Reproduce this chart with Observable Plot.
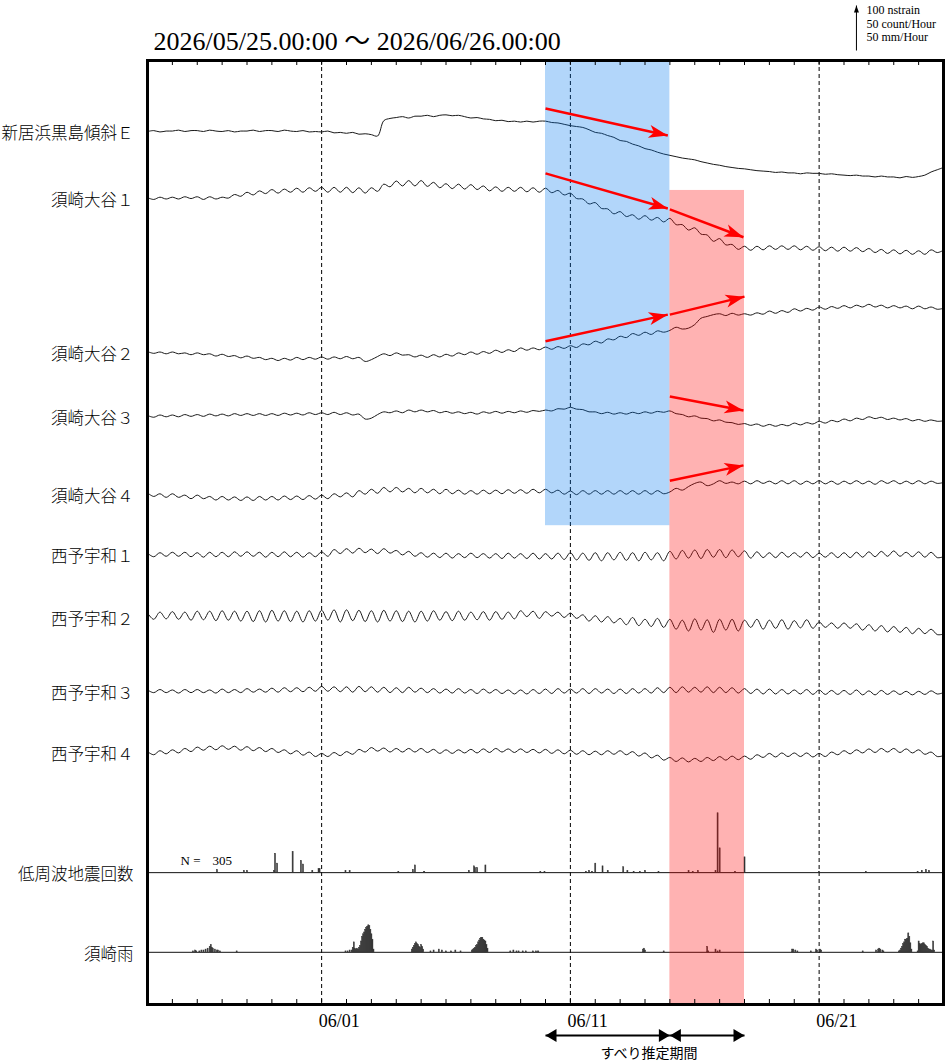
<!DOCTYPE html>
<html><head><meta charset="utf-8">
<script src="https://cdn.jsdelivr.net/npm/d3@7"></script>
<script src="https://cdn.jsdelivr.net/npm/@observablehq/plot@0.6"></script>
<style>body{margin:0;background:#fff}svg{display:block}</style>
</head><body><div id="chart"></div>
<script>
// ---------- data ----------
const START = new Date(Date.UTC(2026, 4, 25));
const END = new Date(Date.UTC(2026, 5, 26));
const STEP_HOURS = 6;
const TITLE = "2026/05/25.00:00 〜 2026/06/26.00:00";
const stationNames = ["新居浜黒島傾斜Ｅ","須崎大谷１","須崎大谷２","須崎大谷３","須崎大谷４","西予宇和１","西予宇和２","西予宇和３","西予宇和４"];
const lfeName = "低周波地震回数";
const rainName = "須崎雨";
const gridDates = [new Date(Date.UTC(2026,5,1)), new Date(Date.UTC(2026,5,11)), new Date(Date.UTC(2026,5,21))];
const scaleLabels = ["100 nstrain","50 count/Hour","50 mm/Hour"];
const slipLabel = "すべり推定期間";

// strain series (nstrain, every 6 hours from START)
const s1 = [0,2,-1,1, 1,3,0,2, 2,0,3,1, 0,2,-1,1, 1,3,0,2, 2,0,3,1, 0,2,-1,0, -1,1,-3,-2,
-4,-2,-6,-5, -7,-10,24,29, 31,33,30,34, 34,36,33,36, 37,35,36,33, 30,31,28,27, 24,25,22,23, 21,23,21,23,
23,20,19,16, 13,11,9,4, -2,-4,-9,-13, -20,-22,-28,-32, -38,-41,-46,-50, -53,-56,-59,-61, -63,-67,-70,-73, -75,-78,-80,-82,
-83,-85,-87,-88, -89,-91,-90,-92, -92,-94,-92,-93, -93,-95,-94,-96, -97,-98,-97,-99, -99,-101,-99,-101, -101,-103,-100,-102, -100,-97,-90,-85,
-80];
const s2 = [2,-2,3,-1, 3,-1,4,0, 4,-2,4,-1, 3,1,9,5, 14,8,17,11, 20,12,21,14, 23,14,24,16, 25,14,25,14,
25,13,24,12, 24,16,32,26, 39,28,40,28, 40,27,36,24, 33,22,32,21, 31,20,28,17, 26,16,25,16, 25,15,24,14,
23,13,18,8, 12,0,-1,-12, -9,-22,-23,-34, -29,-40,-36,-46, -38,-48,-42,-52, -44,-58,-58,-70, -65,-79,-81,-95, -89,-103,-102,-113,
-106,-115,-106,-114, -105,-113,-105,-113, -105,-114,-106,-115, -107,-116,-108,-117, -108,-117,-109,-118, -111,-120,-113,-122, -114,-123,-115,-124, -116,-124,-114,-120,
-115];
const s3 = [2,-2,1,-3, 1,-3,-1,-5, -1,-5,-3,-8, -4,-9,-7,-12, -8,-13,-11,-16, -13,-18,-13,-17, -11,-16,-11,-15, -10,-15,-10,-14,
-9,-14,-11,-20, -16,-9,-3,-7, -1,-6,-5,-10, -6,-11,-5,-10, -4,-8,-1,-5, 1,-4,2,-2, 5,0,6,2, 10,5,10,6,
12,7,13,9, 15,11,19,17, 25,21,30,28, 36,33,42,38, 45,40,48,45, 49,56,52,54, 62,76,80,84, 86,82,87,83,
86,83,88,85, 92,87,93,89, 97,92,98,94, 101,96,102,98, 104,99,105,101, 107,101,105,99, 104,99,103,97, 103,97,101,96,
98];
const s4 = [2,-2,3,-1, 3,-1,4,0, 4,0,5,1, 5,1,6,2, 6,2,6,2, 6,2,7,3, 7,3,8,4, 8,4,9,4,
8,3,5,-6, -4,4,10,8, 12,8,14,10, 14,10,13,8, 11,7,10,6, 9,5,10,7, 11,7,11,8, 12,9,13,11,
14,12,17,16, 20,16,15,10, 10,6,9,5, 8,5,9,6, 10,7,11,9, 12,6,4,-1, 1,-4,-5,-10, -8,-13,-14,-18,
-16,-20,-17,-22, -18,-22,-18,-21, -15,-19,-14,-17, -11,-15,-9,-12, -6,-10,-4,-7, -1,-5,-2,-7, -4,-8,-5,-10, -7,-11,-8,-11,
-10];
const s5 = [4,-4,2,-6, 2,-6,-1,-9, -1,-9,-4,-12, -4,-12,-5,-13, -5,-13,-4,-12, -4,-12,-3,-11, -3,-11,-2,-10, -1,-9,2,-5,
4,-5,9,1, 12,3,16,6, 16,6,14,4, 14,4,12,2, 12,2,10,1, 9,1,10,2, 10,2,11,3, 11,3,12,4,
12,4,10,1, 8,0,9,1, 9,1,9,1, 9,1,9,1, 9,1,9,2, 6,14,10,18, 25,28,20,24, 31,25,28,24,
30,24,31,25, 30,24,31,24, 31,23,30,24, 31,24,30,23, 30,24,31,24, 30,23,31,25, 31,24,30,24, 31,24,30,25,
27];
const s6 = [3,-5,4,-4, 5,-4,5,-5, 4,-6,5,-5, 5,-5,6,-4, 6,-4,5,-6, 5,-5,6,-5, 5,-6,4,-5, 6,-4,11,2,
13,3,14,4, 12,2,13,3, 9,-1,7,-4, 4,-6,3,-7, 3,-8,2,-7, 3,-7,2,-8, 2,-9,3,-8, 2,-9,3,-10,
2,-10,3,-11, 4,-12,3,-13, 4,-14,4,-12, 5,-13,4,-14, 5,-12,4,-14, 7,-10,9,-8, 10,-9,11,-6, 11,-7,10,-5,
8,-8,6,-7, 4,-7,5,-6, 4,-6,5,-7, 3,-6,4,-7, 4,-7,5,-6, 6,-5,7,-4, 8,-4,5,-5, 6,-6,5,-7,
-5];
const s7 = [10,-4,12,-3, 13,-4,12,-6, 14,-5,14,-7, 15,-6,14,-8, 14,-9,15,-10, 16,-8,15,-9, 14,-10,15,-8, 16,-6,17,-10,
17,-7,16,-9, 15,-10,16,-8, 15,-9,14,-10, 14,-8,15,-6, 13,-7,14,-6, 12,-5,13,-6, 13,-4,12,-3, 15,2,14,-2,
13,3,12,0, 10,-2,6,-8, 4,-10,2,-12, -2,-16,0,-18, -4,-20,-2,-22, -4,-26,-6,-30, -3,-28,-5,-33, -4,-28,-4,-30,
-6,-22,-4,-26, -6,-24,-5,-26, -7,-23,-5,-24, -10,-22,-12,-24, -12,-24,-14,-28, -16,-30,-18,-32, -20,-33,-22,-36, -24,-36,-26,-38,
-37];
const s8 = [3,-3,4,-3, 3,-4,4,-3, 4,-3,3,-4, 5,-3,4,-3, 6,-2,5,-2, 7,-2,8,-1, 8,-1,9,0, 11,0,10,-1,
10,-2,11,-1, 10,-2,9,-3, 8,-3,9,-2, 7,-3,6,-4, 5,-4,6,-4, 4,-5,5,-4, 4,-5,3,-6, 3,-6,4,-5,
5,-5,6,-4, 5,-4,6,-5, 6,-4,5,-5, 5,-5,6,-4, 6,-4,8,-3, 9,-3,10,-2, 9,-2,10,-3, 9,-3,8,-4,
6,-5,5,-6, 5,-6,4,-6, 3,-6,4,-7, 3,-7,2,-7, 2,-7,3,-8, 1,-8,2,-7, 1,-7,0,-8, 0,-7,1,-6,
-3];
const s9 = [2,-5,4,-3, 6,-1,9,2, 12,5,14,6, 15,7,14,5, 13,4,11,2, 9,0,6,-3, 4,-6,1,-9, -2,-9,0,-7,
2,-4,7,1, 11,3,10,1, 9,1,9,1, 9,0,7,-2, 6,-2,6,-1, 7,-1,8,0, 9,1,8,0, 8,0,7,-1,
7,-2,6,-3, 5,-4,4,-5, 3,-5,4,-4, 4,-5,2,-8, -1,-12,-6,-17, -11,-20,-12,-21, -13,-20,-11,-18, -9,-17,-8,-16,
-8,-15,-5,-11, -2,-10,-1,-9, -1,-9,-1,-10, -2,-9,1,-5, 4,-3,6,-1, 8,0,9,1, 9,0,8,-1, 6,-4,1,-9,
-7];
const strainSeries = [s1, s2, s3, s4, s5, s6, s7, s8, s9];

// low-frequency earthquakes: hour index from START, count per hour
const lfeHour = [67,93,96,122,123,125,140,148,150,159,165,166,191,195,242,256,258,267,310,315,316,318,326,379,383,423,426,429,432,439,444,459,463,469,475,480,493,522,526,531,548,550,552,567,576,648,693,743,747,751,754];
const lfeCount = [3,2,2,2,21,10,23,13,9,2,4,4,2,2,1,3,8,1,2,7,5,5,8,1,1,1,2,1,10,7,2,6,2,1,1,2,1,2,1,2,2,66,27,1,17,1,1,1,2,3,2];
// rain: hour index from START, mm per hour
const rainHour = [44,46,47,50,52,54,56,58,60,61,62,63,65,67,68,70, 86,
191,193,195,197,198,199,200,201,202,203,204,205,206,207,208,209,210,211,212,213,214,215,216,217,218,
255,256,257,258,259,260,261,262,263,264,265,266, 273,276,281,284,288,293,297,302,
313,314,315,316,317,318,319,320,321,322,323,324,325,326,327,328, 350,353,356,358,362,365, 372,375,377,
478,479,480, 498, 540,541,548,550,552, 622,623,625,627, 640,645,646,649,650, 690, 703,705,706,707,709,710,
725,726,727,728,729,730,731,732,733,734,735,736,737, 743,744,745,746,747,748,749,750,751,752,753,754,755,756,757,758,759];
const rainMM = [1,2,1,1,2,2,3,4,6,8,5,4,3,2,2,1, 1,
1,1,2,2,5,11,4,3,4,3,5,7,12,17,20,22,25,27,28,30,29,25,20,14,3,
3,5,7,9,11,9,8,6,5,8,6,3, 1,2,3,2,1,1,2,1,
2,3,4,5,7,8,11,13,15,16,16,14,13,12,8,4, 1,2,1,1,1,1, 1,1,1,
3,4,2, 1, 6,1,3,1,2, 3,3,2,1, 1,3,2,3,2, 1, 2,3,4,3,2,1,
1,2,4,6,9,11,14,14,15,21,17,10,3, 1,12,9,8,9,10,10,8,7,6,4,3,3,2,2,12,2];

// slip periods and trend arrows
const blueStart = new Date(Date.UTC(2026,5,10)), blueEnd = new Date(Date.UTC(2026,5,15));
const redStart = new Date(Date.UTC(2026,5,15)), redEnd = new Date(Date.UTC(2026,5,18));
const arrowRow = [0,1,1,2,2,3,4];
const arrowT1 = ["2026-06-10T00:00Z","2026-06-10T00:00Z","2026-06-15T00:00Z","2026-06-10T00:00Z","2026-06-15T00:00Z","2026-06-15T00:00Z","2026-06-15T00:00Z"];
const arrowT2 = ["2026-06-14T22:00Z","2026-06-14T22:00Z","2026-06-17T23:00Z","2026-06-14T22:00Z","2026-06-18T00:00Z","2026-06-17T23:00Z","2026-06-17T23:00Z"];
const arrowV1 = [51,56,-24,25,84,44,31];
const arrowV2 = [-9,-22,-86,84,124,13,65];

// ---------- layout (units: nstrain; 100 nstrain = 50 count = 50 mm) ----------
const PX_PER_UNIT = 0.45;
const Y_MAX = 944 / PX_PER_UNIT;
const OFFSETS = [1940, 1791, 1449, 1307, 1133, 1000, 860, 696, 560];
const LFE_BASE = 293, RAIN_BASE = 116;
const BLUE_Y1 = 1064, RED_Y2 = 1809;
const BOTTOM_ARROW_Y = -69;
const SCALE_DATE = new Date(Date.UTC(2026,5,22,12));
const SCALE_Y1 = 2120, SCALE_UNITS = 100;
const HOUR = 3600e3;

const SERIF = "'Liberation Serif','Times New Roman','Noto Sans CJK JP',serif";
const SANS = "'Noto Sans CJK JP','Noto Sans',sans-serif";

const lineRows = strainSeries.flatMap((vals, k) => vals.map((v, i) => ({k, t: new Date(START.getTime() + i*STEP_HOURS*HOUR), y: OFFSETS[k] + v})));
const lfeRows = lfeHour.map((h, i) => ({t1: new Date(START.getTime() + h*HOUR), t2: new Date(START.getTime() + (h+1)*HOUR), y: LFE_BASE + lfeCount[i]*2}));
const rainRows = rainHour.map((h, i) => ({t1: new Date(START.getTime() + h*HOUR), t2: new Date(START.getTime() + (h+1)*HOUR), y: RAIN_BASE + rainMM[i]*2}));
const arrowRows = arrowRow.map((r, i) => ({x1: new Date(arrowT1[i]), x2: new Date(arrowT2[i]), y1: OFFSETS[r] + arrowV1[i], y2: OFFSETS[r] + arrowV2[i]}));
const labelRows = stationNames.map((n, k) => ({n, y: OFFSETS[k]})).concat([{n: lfeName, y: LFE_BASE}, {n: rainName, y: RAIN_BASE}]);
const dayTicks = d3.utcDay.range(new Date(START.getTime() + 24*HOUR), END);
const N = d3.sum(lfeCount);

const scaleText = (label, dy) => Plot.text([label], {text: d => d, x: () => SCALE_DATE, y: () => SCALE_Y1 + SCALE_UNITS, textAnchor: "start", lineAnchor: "middle", dx: 10, dy, fontSize: 12, fill: "#000"});

const chart = Plot.plot({
  width: 946, height: 1064,
  marginLeft: 147, marginRight: 3, marginTop: 60, marginBottom: 60,
  x: {type: "utc", domain: [START, END], axis: null},
  y: {domain: [0, Y_MAX], axis: null},
  style: {fontFamily: SERIF, background: "#fff"},
  marks: [
    Plot.ruleX(gridDates, {x: d => d, stroke: "#000", strokeWidth: 1, strokeDasharray: "4,3"}),
    Plot.ruleY([LFE_BASE, RAIN_BASE], {y: d => d, stroke: "#111", strokeWidth: 1}),
    Plot.line(lineRows, {x: "t", y: "y", z: "k", stroke: "#1a1a1a", strokeWidth: 1, curve: "catmull-rom"}),
    Plot.rect(lfeRows, {x1: "t1", x2: "t2", y1: () => LFE_BASE, y2: "y", fill: "#333", stroke: "#333", strokeWidth: 0.5}),
    Plot.rect(rainRows, {x1: "t1", x2: "t2", y1: () => RAIN_BASE, y2: "y", fill: "#333", stroke: "#333", strokeWidth: 0.5}),
    Plot.rect([0], {x1: () => blueStart, x2: () => blueEnd, y1: () => BLUE_Y1, y2: () => Y_MAX, fill: "rgb(0,119,238)", fillOpacity: 0.3}),
    Plot.rect([0], {x1: () => redStart, x2: () => redEnd, y1: () => 0, y2: () => RED_Y2, fill: "rgb(255,0,0)", fillOpacity: 0.3}),
    Plot.link(arrowRows, {x1: "x1", y1: "y1", x2: "x2", y2: "y2", stroke: "#f00", strokeWidth: 2.5}),
    Plot.frame({stroke: "#000", strokeWidth: 3}),
    Plot.tickX(dayTicks, {x: d => d, insetBottom: 939, stroke: "#000", strokeWidth: 1}),
    Plot.tickX(dayTicks, {x: d => d, insetTop: 939, stroke: "#000", strokeWidth: 1}),
    Plot.text(labelRows, {x: () => START, y: "y", text: "n", textAnchor: "end", lineAnchor: "middle", dx: -14, dy: 2, fontSize: 16.5, fontWeight: 300, fontFamily: SERIF, fill: "#000"}),
    Plot.text(gridDates, {x: d => d, text: d => d3.utcFormat("%m/%d")(d), frameAnchor: "bottom", textAnchor: "start", lineAnchor: "middle", dx: -3, dy: 17, fontSize: 18, fill: "#000"}),
    Plot.text([TITLE], {text: d => d, frameAnchor: "top-left", textAnchor: "start", lineAnchor: "middle", dx: 6, dy: -19, fontSize: 26, fill: "#000"}),
    Plot.text(["N ="], {text: d => d, x: () => START, y: () => LFE_BASE, textAnchor: "start", lineAnchor: "middle", dx: 33, dy: -12, fontSize: 13, fill: "#000"}),
    Plot.text([N], {text: d => `${d}`, x: () => START, y: () => LFE_BASE, textAnchor: "start", lineAnchor: "middle", dx: 65, dy: -12, fontSize: 13, fill: "#000"}),
    Plot.link([{x1: blueStart, x2: redStart}, {x1: redStart, x2: redEnd}], {x1: "x1", x2: "x2", y1: () => BOTTOM_ARROW_Y, y2: () => BOTTOM_ARROW_Y, stroke: "#000", strokeWidth: 2}),
    Plot.text([slipLabel], {text: d => d, x: () => new Date(Date.UTC(2026,5,14)), frameAnchor: "bottom", lineAnchor: "middle", dx: 4, dy: 49, fontSize: 14, fontFamily: SANS, fill: "#000"}),
    Plot.link([0], {x1: () => SCALE_DATE, x2: () => SCALE_DATE, y1: () => SCALE_Y1, y2: () => SCALE_Y1 + SCALE_UNITS, stroke: "#000", strokeWidth: 1}),
    scaleText(scaleLabels[0], 5),
    scaleText(scaleLabels[1], 19),
    scaleText(scaleLabels[2], 32)
  ]
});
document.getElementById("chart").appendChild(chart);

// filled arrowheads
const svg = d3.select(chart);
const defs = svg.insert("defs", ":first-child");
function marker(id, d, color, orient) {
  defs.append("marker").attr("id", id).attr("viewBox", "-30 -15 40 30")
    .attr("refX", 0).attr("refY", 0).attr("markerWidth", 40).attr("markerHeight", 30)
    .attr("markerUnits", "userSpaceOnUse").attr("orient", orient)
    .append("path").attr("d", d).attr("fill", color).attr("stroke", "none");
}
marker("mRed", "M0,0L-19,-6.5L-14,0L-19,6.5Z", "#f00", "auto");
marker("mBlack", "M0,0L-11,-6.5L-11,6.5Z", "#000", "auto-start-reverse");
marker("mScale", "M0,0L-7,-2.5L-7,2.5Z", "#000", "auto");
const linkGroups = svg.selectAll('g[aria-label="link"]').nodes();
d3.select(linkGroups[0]).selectAll("path,line").attr("marker-end", "url(#mRed)");
d3.select(linkGroups[1]).selectAll("path,line").attr("marker-start", "url(#mBlack)").attr("marker-end", "url(#mBlack)");
d3.select(linkGroups[2]).selectAll("path,line").attr("marker-end", "url(#mScale)");
</script></body></html>
